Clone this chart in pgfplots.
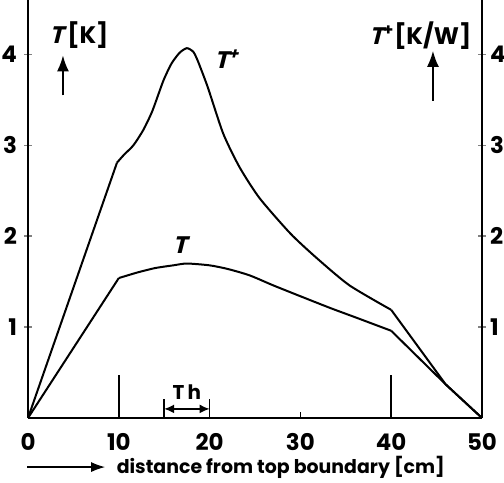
\documentclass[border=0pt]{standalone}
\usepackage{fontspec}
\setmainfont{Poppins}
\newfontfamily\slt[FakeSlant=0.25]{Poppins}
\usepackage{pgfplots}
\pgfplotsset{compat=1.18}
\usetikzlibrary{arrows.meta}
\begin{document}
\begin{tikzpicture}
\useasboundingbox (-14bp,-32.5bp) rectangle (238bp,209bp);
\begin{axis}[
  at={(0,0)}, anchor=south west,
  scale only axis, width=227bp, height=209bp,
  xmin=0, xmax=50, ymin=0, ymax=4.6,
  axis x line=bottom, axis y line=left,
  axis line style={-, line width=0.8bp},
  xtick={0,10,20,30,40,50},
  ytick={1,2,3,4},
  x tick style={draw=none},
  y tick style={line width=0.8bp},
  tick align=center, major tick length=4bp,
  tick label style={font=\fontsize{11.5}{12}\selectfont\bfseries},
  /pgf/number format/assume math mode=true,
  xticklabel style={yshift=-2bp},
  clip=false,
]
\addplot[line width=1bp, black, smooth, tension=0.4] coordinates {
(10,1.54) (12,1.60) (14,1.65) (16,1.68) (17.5,1.70) (20,1.68) (22,1.64) (24.4,1.57) (27,1.46) (30,1.34) (33.3,1.21) (36,1.11) (40,0.96)};
\addplot[line width=1bp, black] coordinates {(0,0) (10,1.54)};
\addplot[line width=1bp, black] coordinates {(40,0.96) (46,0.37) (50,0)};
\addplot[line width=1bp, black, smooth, tension=0.4] coordinates {
(9.8,2.81) (10.6,2.90) (11.6,3.00) (12.7,3.17) (13.7,3.38) (14.9,3.71) (15.8,3.90) (16.7,4.02) (17.5,4.07) (18.2,4.03) (18.7,3.93) (19.8,3.64) (21.5,3.13) (23.3,2.76) (25.5,2.42) (28.9,2.03) (31.8,1.76) (35.4,1.46) (40,1.19)};
\addplot[line width=1bp, black] coordinates {(0,0) (9.8,2.81)};
\addplot[line width=1bp, black] coordinates {(40,1.19) (46,0.37) (50,0)};
% extra marks on the x axis
\draw[line width=0.8bp] (axis cs:10,0) -- (axis cs:10,0.47);
\draw[line width=0.8bp] (axis cs:40,0) -- (axis cs:40,0.47);
\draw[line width=0.8bp] (axis cs:30,0) -- (axis cs:30,0.07);
\draw[line width=0.8bp] (axis cs:15,0) -- (axis cs:15,0.21);
\draw[line width=0.8bp] (axis cs:20,0) -- (axis cs:20,0.21);
\draw[line width=0.8bp, arrows={Latex[length=5bp,width=4.5bp]-Latex[length=5bp,width=4.5bp]}] (axis cs:15,0.1) -- (axis cs:20,0.1);
\node[font=\fontsize{10}{12}\selectfont\bfseries] at (axis cs:17.5,0.29) {T\,h};
% curve labels
\node[font=\fontsize{12}{12}\selectfont\bfseries\slt] at (axis cs:21.9,3.95) {T\textsuperscript{+}};
\node[font=\fontsize{12}{12}\selectfont\bfseries\slt] at (axis cs:16.7,1.90) {T};
% axis labels
\node[font=\fontsize{12}{12}\selectfont\bfseries] at (axis cs:5.6,4.21) {{\slt T}\,[K]};
\draw[line width=0.8bp, arrows={-Latex[length=8bp,width=6bp]}] (axis cs:3.85,3.55) -- (axis cs:3.85,3.99);
\node[font=\fontsize{12}{12}\selectfont\bfseries] at (axis cs:43.2,4.21) {{\slt T}\textsuperscript{+}[K/W]};
\draw[line width=0.8bp, arrows={-Latex[length=8bp,width=6bp]}] (axis cs:44.6,3.49) -- (axis cs:44.6,4.04);
\draw[line width=0.7bp, arrows={-Latex[length=7bp,width=5bp]}] (axis cs:-0.1,-0.54) -- (axis cs:8.5,-0.54);
\node[anchor=west, font=\fontsize{9.5}{12}\selectfont\bfseries] at (axis cs:9.0,-0.54) {distance from top boundary [cm]};
\end{axis}
\begin{axis}[
  at={(0,0)}, anchor=south west,
  scale only axis, width=227bp, height=209bp,
  xmin=0, xmax=50, ymin=0, ymax=4.6,
  axis x line=none, axis y line=right,
  axis line style={-, line width=0.8bp},
  ytick={1,2,3,4},
  y tick style={line width=0.8bp},
  tick align=center, major tick length=4bp,
  tick label style={font=\fontsize{11.5}{12}\selectfont\bfseries},
  yticklabel style={xshift=-1.5bp},
  /pgf/number format/assume math mode=true,
]
\addplot[draw=none] coordinates {(0,0) (50,4.6)};
\end{axis}
\end{tikzpicture}
\end{document}
